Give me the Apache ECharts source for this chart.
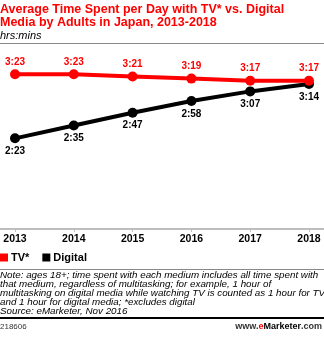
<!DOCTYPE html>
<html>
<head>
<meta charset="utf-8">
<script src="https://cdn.jsdelivr.net/npm/echarts@6/dist/echarts.min.js"></script>
<style>
  html, body { margin: 0; padding: 0; background: #fff; }
  #chart { width: 324px; height: 337px; }
</style>
</head>
<body>
<div id="chart"></div>
<script>
// Years on the x axis
const years = [2013, 2014, 2015, 2016, 2017, 2018];
// Daily time in hrs:mins
const tvTimes = ['3:23', '3:23', '3:21', '3:19', '3:17', '3:17'];
const digitalTimes = ['2:23', '2:35', '2:47', '2:58', '3:07', '3:14'];

const toMinutes = s => { const [h, m] = s.split(':').map(Number); return h * 60 + m; };
const toHM = v => Math.floor(v / 60) + ':' + String(v % 60).padStart(2, '0');

const RED = '#ff0000';
const FONT = 'Liberation Sans';

const chart = echarts.init(document.getElementById('chart'), null, { renderer: 'canvas' });

chart.setOption({
  animation: false,
  backgroundColor: '#fff',
  title: [
    {
      text: 'Average Time Spent per Day with TV* vs. Digital\nMedia by Adults in Japan, 2013-2018',
      left: 0, top: 3,
      padding: 0,
      textStyle: { color: RED, fontFamily: FONT, fontWeight: 'bold', fontSize: 12.5, lineHeight: 13 }
    },
    {
      text: 'hrs:mins',
      left: 0, top: 30,
      padding: 0,
      textStyle: { color: '#000', fontFamily: FONT, fontStyle: 'italic', fontWeight: 'normal', fontSize: 11 }
    },
    {
      text: 'Note: ages 18+; time spent with each medium includes all time spent with\nthat medium, regardless of multitasking; for example, 1 hour of\nmultitasking on digital media while watching TV is counted as 1 hour for TV\nand 1 hour for digital media; *excludes digital\nSource: eMarketer, Nov 2016',
      left: 0, top: 271,
      padding: 0,
      textStyle: { color: '#000', fontFamily: FONT, fontStyle: 'italic', fontWeight: 'normal', fontSize: 9.8, lineHeight: 9 }
    },
    {
      text: '218606',
      left: 0, top: 323,
      padding: 0,
      textStyle: { color: '#333', fontFamily: FONT, fontWeight: 'normal', fontSize: 8 }
    },
    {
      text: '{a|www.}{b|e}{c|Marketer}{a|.com}',
      right: 2, top: 322,
      padding: 0,
      textStyle: {
        fontFamily: FONT, fontSize: 9,
        rich: {
          a: { color: '#333', fontFamily: FONT, fontSize: 9 },
          b: { color: RED, fontFamily: FONT, fontSize: 9, fontWeight: 'bold' },
          c: { color: '#000', fontFamily: FONT, fontSize: 9, fontWeight: 'bold' }
        }
      }
    }
  ],
  graphic: [
    { type: 'line', shape: { x1: 0, y1: 43.5, x2: 324, y2: 43.5 }, style: { stroke: '#888', lineWidth: 1 } },
    { type: 'line', shape: { x1: 0, y1: 269.5, x2: 324, y2: 269.5 }, style: { stroke: '#888', lineWidth: 1 } },
    { type: 'line', shape: { x1: 0, y1: 318, x2: 324, y2: 318 }, style: { stroke: '#000', lineWidth: 2 } }
  ],
  legend: {
    left: 0, top: 252,
    padding: 0,
    itemWidth: 8, itemHeight: 8, itemGap: 13,
    icon: 'rect',
    textStyle: { color: '#000', fontFamily: FONT, fontWeight: 'bold', fontSize: 11, padding: [0, 0, 0, -2] },
    data: ['TV*', 'Digital']
  },
  grid: { left: 0, right: 0, top: 69, bottom: 108, containLabel: false },
  xAxis: {
    type: 'value',
    min: 2013 - 15 / 58.8,
    max: 2018 + 15 / 58.8,
    splitLine: { show: false },
    axisLine: { lineStyle: { color: '#bdbdbd', width: 2 } },
    axisTick: { show: true, length: 3, customValues: years, lineStyle: { color: '#bdbdbd', width: 1 } },
    axisLabel: {
      customValues: years, formatter: v => String(v),
      color: '#000', fontFamily: FONT, fontWeight: 'bold', fontSize: 10.5, margin: 5
    }
  },
  yAxis: {
    type: 'value',
    min: 58, max: 208,
    show: false,
    splitLine: { show: false }
  },
  series: [
    {
      name: 'TV*',
      type: 'line',
      data: years.map((y, i) => [y, toMinutes(tvTimes[i])]),
      color: RED,
      lineStyle: { width: 4, color: RED },
      symbol: 'circle', symbolSize: 10,
      itemStyle: { color: RED },
      label: {
        show: true, position: 'top', distance: 2,
        formatter: p => toHM(p.value[1]),
        color: RED, fontFamily: FONT, fontWeight: 'bold', fontSize: 10
      },
      z: 3
    },
    {
      name: 'Digital',
      type: 'line',
      data: years.map((y, i) => [y, toMinutes(digitalTimes[i])]),
      color: '#000',
      lineStyle: { width: 4, color: '#000' },
      symbol: 'circle', symbolSize: 10,
      itemStyle: { color: '#000' },
      label: {
        show: true, position: 'bottom', distance: 3,
        formatter: p => toHM(p.value[1]),
        color: '#000', fontFamily: FONT, fontWeight: 'bold', fontSize: 10
      },
      z: 2
    }
  ]
});
</script>
</body>
</html>
